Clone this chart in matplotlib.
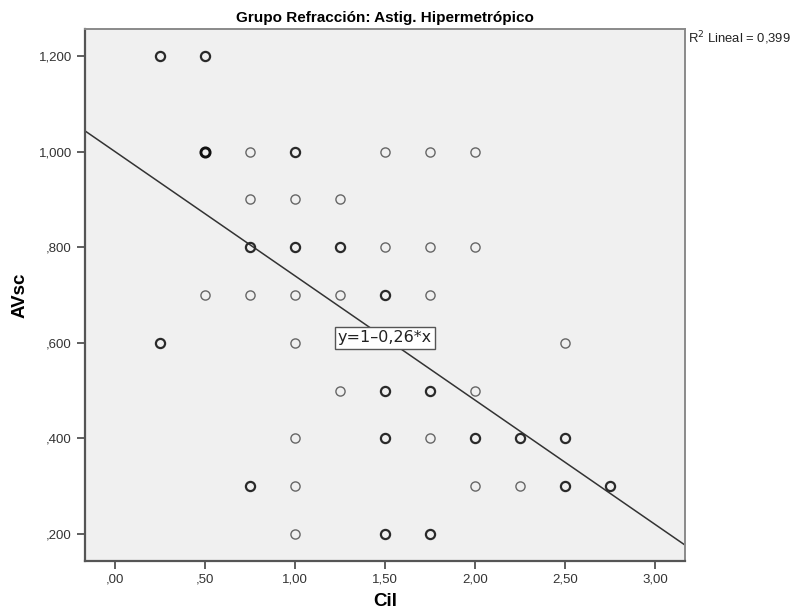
import matplotlib.pyplot as plt
from matplotlib.ticker import FuncFormatter
import numpy as np

plt.rcParams['font.family'] = ['Liberation Sans', 'DejaVu Sans']

# Cases: Cil value, AVsc value, number of overlapping cases at that point
cil = [0.25, 0.50,
       0.50, 0.75, 1.00, 1.50, 1.75, 2.00,
       0.75, 1.00, 1.25,
       0.75, 1.00, 1.25, 1.50, 1.75, 2.00,
       0.50, 0.75, 1.00, 1.25, 1.50, 1.75,
       0.25, 1.00, 2.50,
       1.25, 1.50, 1.75, 2.00,
       1.00, 1.50, 1.75, 2.00, 2.25, 2.50,
       0.75, 1.00, 2.00, 2.25, 2.50, 2.75,
       1.00, 1.50, 1.75]
avsc = [1.2, 1.2,
        1.0, 1.0, 1.0, 1.0, 1.0, 1.0,
        0.9, 0.9, 0.9,
        0.8, 0.8, 0.8, 0.8, 0.8, 0.8,
        0.7, 0.7, 0.7, 0.7, 0.7, 0.7,
        0.6, 0.6, 0.6,
        0.5, 0.5, 0.5, 0.5,
        0.4, 0.4, 0.4, 0.4, 0.4, 0.4,
        0.3, 0.3, 0.3, 0.3, 0.3, 0.3,
        0.2, 0.2, 0.2]
n_cases = [2, 2,
           3, 1, 2, 1, 1, 1,
           1, 1, 1,
           2, 2, 2, 1, 1, 1,
           1, 1, 1, 1, 2, 1,
           2, 1, 1,
           1, 2, 2, 1,
           1, 2, 1, 2, 2, 2,
           2, 1, 1, 1, 2, 2,
           1, 2, 2]

intercept = 1.0
slope = -0.26
r2 = 0.399

x_ticks = [0.0, 0.5, 1.0, 1.5, 2.0, 2.5, 3.0]
y_ticks = [0.2, 0.4, 0.6, 0.8, 1.0, 1.2]


def spss_fmt(decimals):
    def f(v, pos):
        s = f"{v:.{decimals}f}".replace('.', ',')
        if s.startswith('0,'):
            s = s[1:]
        return s
    return FuncFormatter(f)


fig = plt.figure(figsize=(7.96, 6.15), dpi=100)
ax = fig.add_axes([0.1068, 0.0883, 0.7538, 0.8645])
ax.set_facecolor('#f0f0f0')

ax.set_xlim(-0.1667, 3.1667)
ax.set_ylim(0.144, 1.2565)

# Fit line
xl = np.array(ax.get_xlim())
ax.plot(xl, intercept + slope * xl, color='#333333', lw=1.1, zorder=2)

# Points, heavier where cases overlap
for x, y, n in zip(cil, avsc, n_cases):
    if n == 1:
        ec, lw = '#666666', 1.0
    elif n == 2:
        ec, lw = '#2a2a2a', 1.6
    else:
        ec, lw = '#111111', 2.1
    ax.plot(x, y, 'o', ms=6.6, mfc='none', mec=ec, mew=lw, zorder=3)

# Equation label on the line
xm = 1.5
ax.text(xm, intercept + slope * xm, 'y=1\u20130,26*x', family='DejaVu Sans',
        fontsize=11.5, ha='center', va='center', color='#222222', zorder=4,
        bbox=dict(boxstyle='square,pad=0.2', fc='white', ec='#555555', lw=1))

ax.set_xticks(x_ticks)
ax.set_yticks(y_ticks)
ax.xaxis.set_major_formatter(spss_fmt(2))
ax.yaxis.set_major_formatter(spss_fmt(3))
ax.tick_params(direction='out', length=6, width=1.2, color='#444444',
               labelsize=9.5, labelcolor='#333333')

for side in ('left', 'bottom'):
    ax.spines[side].set_color('#555555')
    ax.spines[side].set_linewidth(1.6)
for side in ('top', 'right'):
    ax.spines[side].set_color('#8a8a8a')
    ax.spines[side].set_linewidth(1.4)

ax.set_title('Grupo Refracción: Astig. Hipermetrópico', fontsize=11,
             fontweight='bold', pad=5)
ax.set_xlabel('Cil', fontsize=13.5, fontweight='bold', labelpad=5)
ax.set_ylabel('AVsc', fontsize=13.5, fontweight='bold', labelpad=7)

fig.text(688 / 796, 1 - 29 / 615, f'R$^2$ Lineal = {r2:.3f}'.replace('.', ','),
         fontsize=9.4, ha='left', va='top', color='#222222')

fig.savefig('out.png', dpi=100)
